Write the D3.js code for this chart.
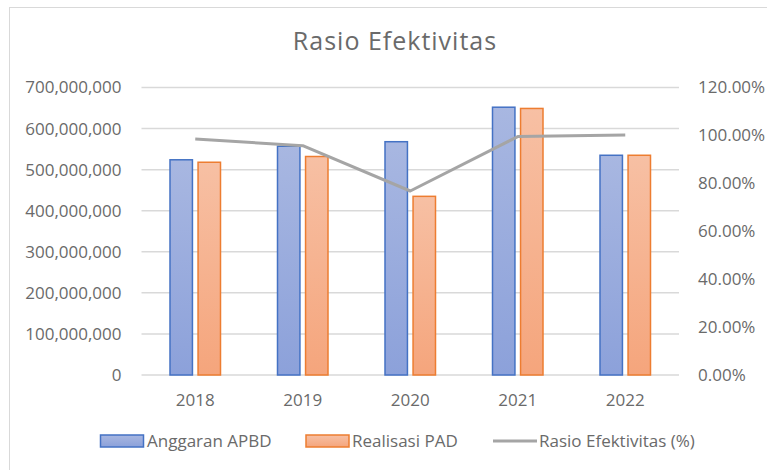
<!DOCTYPE html>
<html>
<head>
<meta charset="utf-8">
<script src="https://cdn.jsdelivr.net/npm/d3@7"></script>
<style>
  body { margin: 0; background: #fff; }
  text { font-family: "Open Sans", sans-serif; fill: #6a6a6a; }
</style>
</head>
<body>
<script>
var years = ["2018", "2019", "2020", "2021", "2022"];
var anggaran = [524e6, 557e6, 568e6, 652e6, 535e6];
var realisasi = [518e6, 532e6, 435e6, 649e6, 535e6];
var rasio = [0.985, 0.957, 0.768, 0.995, 1.002];
var leftTicks = [0, 1e8, 2e8, 3e8, 4e8, 5e8, 6e8, 7e8];
var rightTicks = [0, 0.2, 0.4, 0.6, 0.8, 1.0, 1.2];

var width = 767, height = 470;
var plot = { left: 141.5, right: 679, top: 87.5, bottom: 375 };
var fs = "17px";

var svg = d3.select("body").append("svg")
    .attr("width", width)
    .attr("height", height);

var defs = svg.append("defs");
function grad(id, top, bottom) {
    var g = defs.append("linearGradient").attr("id", id)
        .attr("x1", 0).attr("y1", 0).attr("x2", 0).attr("y2", 1);
    g.append("stop").attr("offset", "0%").attr("stop-color", top);
    g.append("stop").attr("offset", "100%").attr("stop-color", bottom);
}
grad("gBlue", "#a8b7e1", "#8ca1da");
grad("gOrange", "#f7c0a4", "#f5a57c");

// chart border
svg.append("rect")
    .attr("x", 9.5).attr("y", 7.5)
    .attr("width", 800).attr("height", 500)
    .attr("fill", "none")
    .attr("stroke", "#d9d9d9");

var x = d3.scaleBand().domain(years).range([plot.left, plot.right]);
var x1 = d3.scaleBand().domain(["a", "r"]).range([28.5, 79]).paddingInner(0.2);
var y = d3.scaleLinear().domain([0, 7e8]).range([plot.bottom, plot.top]);
var y2 = d3.scaleLinear().domain([0, 1.2]).range([plot.bottom, plot.top]);

// gridlines
svg.append("g")
    .selectAll("line")
    .data(leftTicks)
    .join("line")
    .attr("x1", plot.left).attr("x2", plot.right)
    .attr("y1", d => y(d)).attr("y2", d => y(d))
    .attr("stroke", "#d9d9d9")
    .attr("stroke-width", 1.5);

// left axis
svg.append("g")
    .attr("transform", "translate(" + (plot.left - 20) + ",0)")
    .call(d3.axisLeft(y).tickValues(leftTicks).tickFormat(d3.format(",")).tickSize(0).tickPadding(0))
    .call(g => g.select(".domain").remove())
    .selectAll("text")
    .style("font-size", fs)
    .attr("fill", null);

// right axis
svg.append("g")
    .attr("transform", "translate(" + (plot.right + 19) + ",0)")
    .call(d3.axisRight(y2).tickValues(rightTicks).tickFormat(d3.format(".2%")).tickSize(0).tickPadding(0))
    .call(g => g.select(".domain").remove())
    .selectAll("text")
    .style("font-size", fs)
    .attr("fill", null);

// x axis
svg.append("g")
    .attr("transform", "translate(0," + plot.bottom + ")")
    .call(d3.axisBottom(x).tickSize(0).tickPadding(19))
    .call(g => g.select(".domain").remove())
    .selectAll("text")
    .style("font-size", fs)
    .attr("fill", null);

// bars
var bars = svg.append("g");
bars.selectAll(".a")
    .data(anggaran)
    .join("rect")
    .attr("x", (d, i) => x(years[i]) + x1("a"))
    .attr("y", d => y(d))
    .attr("width", x1.bandwidth())
    .attr("height", d => y(0) - y(d))
    .attr("fill", "url(#gBlue)")
    .attr("stroke", "#4472c4")
    .attr("stroke-width", 1.5);

bars.selectAll(".r")
    .data(realisasi)
    .join("rect")
    .attr("x", (d, i) => x(years[i]) + x1("r"))
    .attr("y", d => y(d))
    .attr("width", x1.bandwidth())
    .attr("height", d => y(0) - y(d))
    .attr("fill", "url(#gOrange)")
    .attr("stroke", "#ed7d31")
    .attr("stroke-width", 1.5);

// ratio line
var line = d3.line()
    .x((d, i) => x(years[i]) + x.bandwidth() / 2)
    .y(d => y2(d));

svg.append("path")
    .datum(rasio)
    .attr("d", line)
    .attr("fill", "none")
    .attr("stroke", "#a5a5a5")
    .attr("stroke-width", 3)
    .attr("stroke-linejoin", "round");

// title
svg.append("text")
    .attr("x", 395)
    .attr("y", 50)
    .attr("text-anchor", "middle")
    .style("font-size", "25px")
    .style("letter-spacing", "1px")
    .text("Rasio Efektivitas");

// legend
var leg = svg.append("g").attr("transform", "translate(0,441)");
leg.append("rect").attr("x", 100.5).attr("y", -6).attr("width", 43).attr("height", 12)
    .attr("fill", "url(#gBlue)").attr("stroke", "#4472c4").attr("stroke-width", 1.5);
leg.append("text").attr("x", 147).attr("y", 6).style("font-size", fs).text("Anggaran APBD");
leg.append("rect").attr("x", 306).attr("y", -6).attr("width", 43).attr("height", 12)
    .attr("fill", "url(#gOrange)").attr("stroke", "#ed7d31").attr("stroke-width", 1.5);
leg.append("text").attr("x", 352).attr("y", 6).style("font-size", fs).text("Realisasi PAD");
leg.append("line").attr("x1", 493).attr("x2", 537).attr("y1", 0).attr("y2", 0)
    .attr("stroke", "#a5a5a5").attr("stroke-width", 3);
leg.append("text").attr("x", 539).attr("y", 6).style("font-size", fs).text("Rasio Efektivitas (%)");
</script>
</body>
</html>
